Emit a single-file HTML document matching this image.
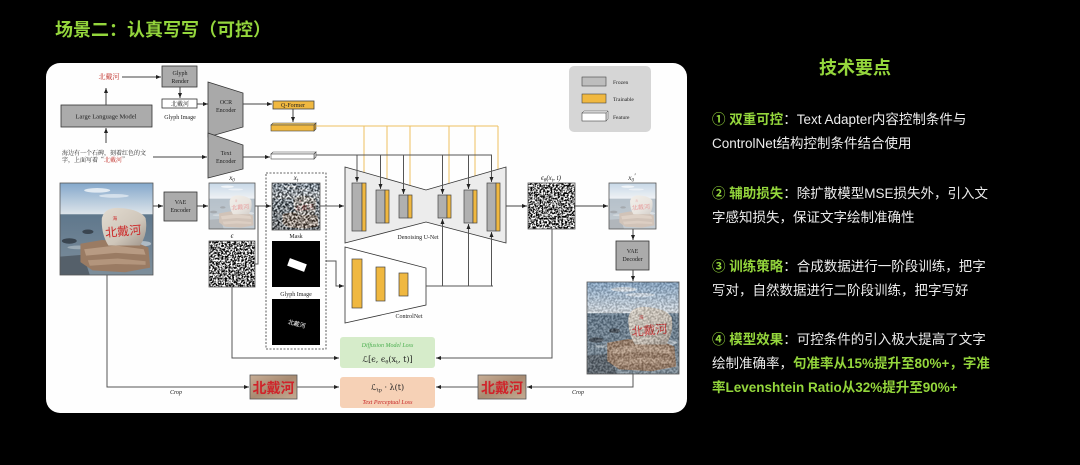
<!DOCTYPE html>
<html><head><meta charset="utf-8">
<style>
html,body{margin:0;padding:0;background:#000;}
#wrap{position:relative;width:1080px;height:465px;overflow:hidden;background:#000;font-family:"Liberation Sans","Noto Sans CJK SC",sans-serif;}
.t{position:absolute;white-space:nowrap;color:#ececec;font-size:13.5px;line-height:24px;left:712px;}
.g{color:#94d63c;font-weight:bold;}
</style></head>
<body><div id="wrap">
<svg width="1080" height="465" viewBox="0 0 1080 465" xmlns="http://www.w3.org/2000/svg" style="position:absolute;left:0;top:0">
<defs>
<marker id="a" viewBox="0 0 10 10" refX="10" refY="5" markerWidth="5" markerHeight="5" markerUnits="userSpaceOnUse" orient="auto"><path d="M0,1 L10,5 L0,9z" fill="#222"/></marker>
<marker id="ay" viewBox="0 0 10 10" refX="10" refY="5" markerWidth="5" markerHeight="5" markerUnits="userSpaceOnUse" orient="auto"><path d="M0,1 L10,5 L0,9z" fill="#e8b440"/></marker>
<filter id="nz" x="0" y="0" width="1" height="1" color-interpolation-filters="sRGB">
<feTurbulence type="fractalNoise" baseFrequency="0.55" numOctaves="2" seed="4"/>
<feColorMatrix type="matrix" values="1 0 0 0 0  1 0 0 0 0  1 0 0 0 0  0 0 0 0 1"/>
<feComponentTransfer><feFuncR type="linear" slope="4" intercept="-1.5"/><feFuncG type="linear" slope="4" intercept="-1.5"/><feFuncB type="linear" slope="4" intercept="-1.5"/></feComponentTransfer>
</filter>
<filter id="nz2" x="0" y="0" width="1" height="1" color-interpolation-filters="sRGB">
<feTurbulence type="fractalNoise" baseFrequency="0.5" numOctaves="2" seed="9"/>
<feColorMatrix type="matrix" values="1 0 0 0 0  1 0 0 0 0  1 0 0 0 0  0 0 0 0 1"/>
<feComponentTransfer><feFuncR type="linear" slope="4" intercept="-1.5"/><feFuncG type="linear" slope="4" intercept="-1.5"/><feFuncB type="linear" slope="4" intercept="-1.5"/></feComponentTransfer>
</filter>
<linearGradient id="sky" x1="0" y1="0" x2="0" y2="1">
<stop offset="0" stop-color="#84a8cb"/><stop offset="0.34" stop-color="#dde4ea"/></linearGradient>
<linearGradient id="sea" x1="0" y1="0" x2="0" y2="1">
<stop offset="0" stop-color="#5f778c"/><stop offset="1" stop-color="#7d8e9b"/></linearGradient>
<linearGradient id="rock" x1="0" y1="0" x2="1" y2="1">
<stop offset="0" stop-color="#e2dbd0"/><stop offset="0.6" stop-color="#cfc6ba"/><stop offset="1" stop-color="#9f958b"/></linearGradient>
<linearGradient id="crop" x1="0" y1="0" x2="1" y2="1">
<stop offset="0" stop-color="#c8ae96"/><stop offset="0.5" stop-color="#a88b72"/><stop offset="1" stop-color="#c4ab93"/></linearGradient>
<symbol id="ph" viewBox="0 0 100 100" preserveAspectRatio="none">
<rect width="100" height="100" fill="url(#sky)"/>
<ellipse cx="40" cy="8" rx="14" ry="2.5" fill="#fff" opacity="0.7"/>
<ellipse cx="58" cy="14" rx="16" ry="2" fill="#fff" opacity="0.5"/>
<rect y="34" width="100" height="66" fill="url(#sea)"/>
<ellipse cx="88" cy="66" rx="10" ry="3" fill="#c9d2d8" opacity="0.7"/>
<ellipse cx="20" cy="70" rx="12" ry="2" fill="#b9c4cc" opacity="0.6"/>
<ellipse cx="10" cy="63" rx="8" ry="3" fill="#3a4550"/>
<ellipse cx="30" cy="53" rx="6" ry="2.5" fill="#3a4550"/>
<path d="M0,80 L25,78 L32,100 L0,100z" fill="#55606a"/>
<path d="M22,66 L45,62 L80,64 L95,70 L97,92 L70,97 L35,95 L22,86z" fill="#9a7b63"/>
<path d="M26,72 L60,68 L90,72 L92,78 L60,76 L28,79z" fill="#b89b83"/>
<path d="M30,84 L62,82 L92,85 L92,89 L60,88 L32,90z" fill="#b3957c"/>
<path d="M45,38 Q48,27 62,27 Q85,28 92,38 Q95,55 86,68 L52,68 Q44,55 45,38z" fill="url(#rock)"/>
<text x="59" y="40" font-size="5" fill="#cc2a2a" text-anchor="middle" font-family="Noto Sans CJK SC,sans-serif">海</text>
<text x="68" y="57" font-size="13" fill="#cc2a2a" text-anchor="middle" font-family="Noto Sans CJK SC,sans-serif" transform="rotate(-5 68 53)">北戴河</text>
</symbol>
</defs>

<!-- Title -->
<text x="55" y="36" font-size="18" font-weight="bold" fill="#94d63c" font-family="Liberation Sans,Noto Sans CJK SC,sans-serif">场景二：认真写写（可控）</text>

<!-- Panel -->
<rect x="46" y="63" width="641" height="350" rx="14" fill="#fefefe"/>

<g font-family="Liberation Serif,Noto Serif CJK SC,serif" fill="#222" text-anchor="middle">
<!-- top-left -->
<text x="109" y="79" font-size="7" fill="#c0302a" font-family="Noto Serif CJK SC,serif">北戴河</text>
<line x1="122" y1="77" x2="161" y2="77" stroke="#444" marker-end="url(#a)"/>
<rect x="162" y="66" width="35" height="21" fill="#ababab" stroke="#333" stroke-width="0.8"/>
<text x="180" y="75" font-size="6">Glyph</text><text x="180" y="83" font-size="6">Render</text>
<line x1="180" y1="87" x2="180" y2="98" stroke="#444" marker-end="url(#a)"/>
<rect x="162" y="99" width="35" height="9" fill="#fff" stroke="#333" stroke-width="0.8"/>
<text x="180" y="106" font-size="6" font-family="Noto Serif CJK SC,serif">北戴河</text>
<text x="180" y="119" font-size="6">Glyph Image</text>
<line x1="197" y1="104" x2="208" y2="104" stroke="#444" marker-end="url(#a)"/>
<polygon points="208,82 243,93 243,127 208,137" fill="#a9a9a9" stroke="#333" stroke-width="0.8"/>
<text x="226" y="104" font-size="6">OCR</text><text x="226" y="112" font-size="6">Encoder</text>
<line x1="243" y1="104" x2="272" y2="104" stroke="#444" marker-end="url(#a)"/>
<rect x="273" y="101" width="41" height="8" fill="#f0b840" stroke="#444" stroke-width="0.8"/>
<text x="293" y="107" font-size="6">Q-Former</text>
<line x1="293" y1="109" x2="293" y2="122" stroke="#444" marker-end="url(#a)"/>
<polygon points="271,125 273,123 316,123 314,125" fill="#f4cc6a" stroke="#444" stroke-width="0.6"/>
<polygon points="314,125 316,123 316,129 314,131" fill="#d9a030" stroke="#444" stroke-width="0.6"/>
<rect x="271" y="125" width="43" height="6" fill="#f0b840" stroke="#444" stroke-width="0.6"/>

<rect x="61" y="105" width="91" height="22" fill="#ababab" stroke="#333" stroke-width="0.8"/>
<text x="106" y="118.5" font-size="6.5">Large Language Model</text>
<line x1="106" y1="105" x2="106" y2="88" stroke="#444" marker-end="url(#a)"/>
<line x1="106" y1="143" x2="106" y2="128" stroke="#444" marker-end="url(#a)"/>
<text x="62" y="155" font-size="6" text-anchor="start" font-family="Noto Serif CJK SC,serif">海边有一个石碑，刻着红色的文</text>
<text x="62" y="162" font-size="6" text-anchor="start" font-family="Noto Serif CJK SC,serif">字，上面写着“<tspan fill="#c0302a">北戴河</tspan>”</text>
<line x1="153" y1="157" x2="207" y2="157" stroke="#444" marker-end="url(#a)"/>
<polygon points="208,133 243,145 243,169 208,178" fill="#a9a9a9" stroke="#333" stroke-width="0.8"/>
<text x="226" y="155" font-size="6">Text</text><text x="226" y="163" font-size="6">Encoder</text>
<line x1="243" y1="157" x2="270" y2="157" stroke="#444" marker-end="url(#a)"/>
<polygon points="271,154 273,152 316,152 314,154" fill="#fff" stroke="#444" stroke-width="0.6"/>
<polygon points="314,154 316,152 316,157 314,159" fill="#ddd" stroke="#444" stroke-width="0.6"/>
<rect x="271" y="154" width="43" height="5" fill="#fff" stroke="#444" stroke-width="0.6"/>

<!-- legend -->
<rect x="569" y="66" width="82" height="66" rx="5" fill="#d6d6d6"/>
<rect x="582" y="77" width="24" height="9" fill="#bdbdbd" stroke="#444" stroke-width="0.6"/>
<text x="613" y="84" font-size="5.5" text-anchor="start">Frozen</text>
<rect x="582" y="94" width="24" height="9" fill="#f0b840" stroke="#444" stroke-width="0.6"/>
<text x="613" y="101" font-size="5.5" text-anchor="start">Trainable</text>
<polygon points="582,113 584,111 608,111 606,113" fill="#fff" stroke="#444" stroke-width="0.5"/>
<polygon points="606,113 608,111 608,119 606,121" fill="#eee" stroke="#444" stroke-width="0.5"/>
<rect x="582" y="113" width="24" height="8" fill="#fff" stroke="#444" stroke-width="0.6"/>
<text x="613" y="119" font-size="5.5" text-anchor="start">Feature</text>

<!-- conditioning lines -->
<polyline points="316,126 498,126" fill="none" stroke="#eec060" stroke-width="1"/>
<g stroke="#eec060" stroke-width="1">
<line x1="364" y1="126" x2="364" y2="182" marker-end="url(#ay)"/>
<line x1="387" y1="126" x2="387" y2="189" marker-end="url(#ay)"/>
<line x1="410" y1="126" x2="410" y2="194" marker-end="url(#ay)"/>
<line x1="449" y1="126" x2="449" y2="194" marker-end="url(#ay)"/>
<line x1="475" y1="126" x2="475" y2="189" marker-end="url(#ay)"/>
<line x1="498" y1="126" x2="498" y2="182" marker-end="url(#ay)"/>
</g>
<line x1="316" y1="155" x2="492" y2="155" stroke="#555" stroke-width="1"/>

<!-- U-Net -->
<polygon points="345,167 426,190 506,167 506,243 426,222 345,243" fill="#ececec" stroke="#333" stroke-width="0.8"/>
<g stroke="#555" stroke-width="1">
<line x1="357" y1="155" x2="357" y2="182" marker-end="url(#a)"/>
<line x1="380.5" y1="155" x2="380.5" y2="189" marker-end="url(#a)"/>
<line x1="403.5" y1="155" x2="403.5" y2="194" marker-end="url(#a)"/>
<line x1="442.5" y1="155" x2="442.5" y2="194" marker-end="url(#a)"/>
<line x1="468.5" y1="155" x2="468.5" y2="189" marker-end="url(#a)"/>
<line x1="491.5" y1="155" x2="491.5" y2="182" marker-end="url(#a)"/>
</g>
<g stroke="#444" stroke-width="0.7">
<rect x="352" y="183" width="10" height="48" fill="#b0b0b0"/><rect x="362" y="183" width="4" height="48" fill="#f0b840"/>
<rect x="376" y="190" width="9" height="33" fill="#b0b0b0"/><rect x="385" y="190" width="4" height="33" fill="#f0b840"/>
<rect x="399" y="195" width="9" height="23" fill="#b0b0b0"/><rect x="408" y="195" width="4" height="23" fill="#f0b840"/>
<rect x="438" y="195" width="9" height="23" fill="#b0b0b0"/><rect x="447" y="195" width="4" height="23" fill="#f0b840"/>
<rect x="464" y="190" width="9" height="33" fill="#b0b0b0"/><rect x="473" y="190" width="4" height="33" fill="#f0b840"/>
<rect x="487" y="183" width="9" height="48" fill="#b0b0b0"/><rect x="496" y="183" width="4" height="48" fill="#f0b840"/>
</g>
<text x="418" y="239" font-size="6">Denoising U-Net</text>

<!-- ControlNet -->
<polygon points="345,247 426,268 426,305 345,323" fill="#fff" stroke="#333" stroke-width="0.8"/>
<g stroke="#444" stroke-width="0.7" fill="#f0b840">
<rect x="352" y="259" width="10" height="49"/>
<rect x="376" y="267" width="9" height="34"/>
<rect x="399" y="273" width="9" height="23"/>
</g>
<text x="409" y="318" font-size="6">ControlNet</text>
<g stroke="#555" stroke-width="1" fill="none">
<polyline points="426,286 493,286"/>
<line x1="442.5" y1="286" x2="442.5" y2="219" marker-end="url(#a)"/>
<line x1="468.5" y1="286" x2="468.5" y2="224" marker-end="url(#a)"/>
<line x1="491.5" y1="286" x2="491.5" y2="232" marker-end="url(#a)"/>
<polyline points="326,261 336,261 336,286 344,286" marker-end="url(#a)"/>
<line x1="320" y1="206" x2="344" y2="206" marker-end="url(#a)"/>
</g>

<!-- source image & encoder -->
<use href="#ph" x="60" y="183" width="93" height="92"/>
<rect x="60" y="183" width="93" height="92" fill="none" stroke="#555" stroke-width="0.8"/>
<line x1="153" y1="206" x2="163" y2="206" stroke="#444" marker-end="url(#a)"/>
<rect x="164" y="192" width="33" height="29" fill="#ababab" stroke="#333" stroke-width="0.8"/>
<text x="180.5" y="204" font-size="6">VAE</text><text x="180.5" y="212" font-size="6">Encoder</text>
<line x1="197" y1="206" x2="208" y2="206" stroke="#444" marker-end="url(#a)"/>
<rect x="209" y="183" width="46" height="46" fill="#fff"/>
<use href="#ph" x="209" y="183" width="46" height="46" opacity="0.45"/>
<rect x="209" y="183" width="46" height="46" fill="none" stroke="#555" stroke-width="0.8"/>
<text x="232" y="180" font-size="7" font-style="italic">x<tspan font-size="5" dy="1.5">0</tspan></text>
<g stroke="#555" stroke-width="1" fill="none">
<line x1="255" y1="206" x2="271" y2="206" marker-end="url(#a)"/>
<polyline points="255,264 258,264 258,206"/>
</g>
<rect x="209" y="241" width="46" height="46" filter="url(#nz)"/>
<rect x="209" y="241" width="46" height="46" fill="none" stroke="#555" stroke-width="0.8"/>
<text x="232" y="238" font-size="7" font-style="italic">ϵ</text>

<!-- dashed box -->
<rect x="266" y="173" width="60" height="176" fill="none" stroke="#333" stroke-width="0.8" stroke-dasharray="2,1.5"/>
<rect x="272" y="183" width="48" height="47" filter="url(#nz2)"/>
<use href="#ph" x="272" y="183" width="48" height="47" opacity="0.3"/>
<rect x="272" y="183" width="48" height="47" fill="none" stroke="#555" stroke-width="0.8"/>
<text x="296" y="180" font-size="7" font-style="italic">x<tspan font-size="5" dy="1.5">t</tspan></text>
<text x="296" y="238" font-size="6">Mask</text>
<rect x="272" y="241" width="48" height="46" fill="#000"/>
<rect x="288" y="261" width="18" height="8" fill="#fff" transform="rotate(20 297 265)"/>
<text x="296" y="296" font-size="6">Glyph Image</text>
<rect x="272" y="299" width="48" height="46" fill="#000"/>
<text x="297" y="326" font-size="6" fill="#fff" font-family="Noto Sans CJK SC,sans-serif" transform="rotate(15 297 323)">北戴河</text>

<!-- eps_theta, x0', decoder, output -->
<line x1="506" y1="206" x2="527" y2="206" stroke="#444" marker-end="url(#a)"/>
<rect x="528" y="183" width="47" height="46" filter="url(#nz)"/>
<rect x="528" y="183" width="47" height="46" fill="none" stroke="#555" stroke-width="0.8"/>
<text x="551" y="180" font-size="7" font-style="italic">ϵ<tspan font-size="5" dy="1.5">θ</tspan><tspan dy="-1.5">(x</tspan><tspan font-size="5" dy="1.5">t</tspan><tspan dy="-1.5">, t)</tspan></text>
<line x1="575" y1="206" x2="608" y2="206" stroke="#444" marker-end="url(#a)"/>
<rect x="609" y="183" width="47" height="46" fill="#fff"/>
<use href="#ph" x="609" y="183" width="47" height="46" opacity="0.45"/>
<rect x="609" y="183" width="47" height="46" fill="none" stroke="#555" stroke-width="0.8"/>
<text x="632" y="180" font-size="7" font-style="italic">x<tspan font-size="5" dy="1.5">0</tspan><tspan dy="-3">′</tspan></text>
<line x1="633" y1="229" x2="633" y2="240" stroke="#444" marker-end="url(#a)"/>
<rect x="616" y="241" width="33" height="29" fill="#ababab" stroke="#333" stroke-width="0.8"/>
<text x="632.5" y="253" font-size="6">VAE</text><text x="632.5" y="261" font-size="6">Decoder</text>
<line x1="633" y1="270" x2="633" y2="281" stroke="#444" marker-end="url(#a)"/>
<use href="#ph" x="587" y="282" width="92" height="92"/>
<rect x="587" y="282" width="92" height="92" filter="url(#nz2)" opacity="0.22"/>
<rect x="587" y="282" width="92" height="92" fill="none" stroke="#555" stroke-width="0.8"/>

<!-- loss lines -->
<g stroke="#555" stroke-width="1" fill="none">
<polyline points="107,275 107,387 249,387" marker-end="url(#a)"/>
<polyline points="232,287 232,358 339,358" marker-end="url(#a)"/>
<polyline points="552,229 552,358 436,358" marker-end="url(#a)"/>
<line x1="297" y1="387" x2="339" y2="387" marker-end="url(#a)"/>
<line x1="478" y1="387" x2="436" y2="387" marker-end="url(#a)"/>
<polyline points="633,374 633,387 527,387" marker-end="url(#a)"/>
</g>
<text x="176" y="394" font-size="6" font-style="italic">Crop</text>
<text x="578" y="394" font-size="6" font-style="italic">Crop</text>

<rect x="340" y="337" width="95" height="31" rx="3" fill="#d6ecca"/>
<text x="387.5" y="347" font-size="6" font-style="italic" fill="#4caf50">Diffusion Model Loss</text>
<text x="387.5" y="362" font-size="8" font-family="DejaVu Serif,serif">ℒ[ϵ, ϵ<tspan font-size="5" dy="1.5">θ</tspan><tspan dy="-1.5">(x</tspan><tspan font-size="5" dy="1.5">t</tspan><tspan dy="-1.5">, t)]</tspan></text>
<rect x="340" y="377" width="95" height="31" rx="3" fill="#f6d1b6"/>
<text x="387.5" y="390" font-size="8" font-family="DejaVu Serif,serif">ℒ<tspan font-size="5" dy="1.5">tp</tspan><tspan dy="-1.5"> · λ(t)</tspan></text>
<text x="387.5" y="404" font-size="6" font-style="italic" fill="#c62828">Text Perceptual Loss</text>

<rect x="250" y="375" width="47" height="24" fill="url(#crop)" stroke="#555" stroke-width="0.8"/>
<text x="273.5" y="393" font-size="14" font-weight="bold" fill="#d0232a" font-family="Noto Sans CJK SC,sans-serif" textLength="42" lengthAdjust="spacingAndGlyphs">北戴河</text>
<rect x="478" y="375" width="48" height="24" fill="url(#crop)" stroke="#555" stroke-width="0.8"/>
<text x="502" y="393" font-size="14" font-weight="bold" fill="#d0232a" font-family="Noto Sans CJK SC,sans-serif" textLength="42" lengthAdjust="spacingAndGlyphs">北戴河</text>
</g>

<!-- right heading -->
<text x="855" y="74" font-size="18" font-weight="bold" fill="#94d63c" text-anchor="middle" font-family="Liberation Sans,Noto Sans CJK SC,sans-serif">技术要点</text>
</svg>

<div class="t" style="top:108px"><span class="g">① 双重可控</span>：Text Adapter内容控制条件与</div>
<div class="t" style="top:132px">ControlNet结构控制条件结合使用</div>
<div class="t" style="top:182px"><span class="g">② 辅助损失</span>：除扩散模型MSE损失外，引入文</div>
<div class="t" style="top:206px">字感知损失，保证文字绘制准确性</div>
<div class="t" style="top:255px"><span class="g">③ 训练策略</span>：合成数据进行一阶段训练，把字</div>
<div class="t" style="top:279px">写对，自然数据进行二阶段训练，把字写好</div>
<div class="t" style="top:328px"><span class="g">④ 模型效果</span>：可控条件的引入极大提高了文字</div>
<div class="t" style="top:352px">绘制准确率，<span class="g">句准率从15%提升至80%+，字准</span></div>
<div class="t" style="top:376px"><span class="g">率Levenshtein Ratio从32%提升至90%+</span></div>
</div></body></html>
